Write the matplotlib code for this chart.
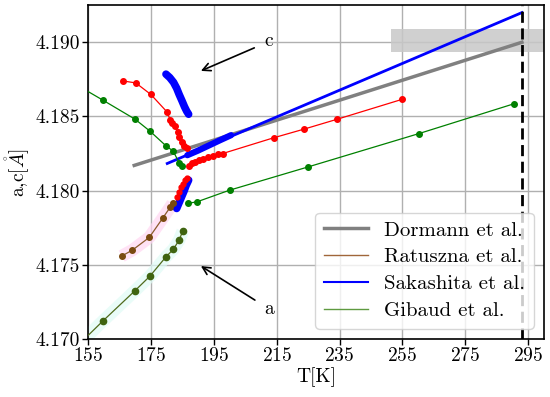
import matplotlib
matplotlib.use("Agg")
import matplotlib.pyplot as plt
from matplotlib.lines import Line2D
import numpy as np

plt.rcParams['font.family'] = 'serif'
plt.rcParams['font.serif'] = ['cmr10']
plt.rcParams['mathtext.fontset'] = 'cm'
plt.rcParams['axes.formatter.use_mathtext'] = True
plt.rcParams['axes.unicode_minus'] = False

# Dormann et al. (linear fit)
dor_T = [169.7, 293.0]
dor_v = [4.1817, 4.1900]

# Sakashita et al.
sak_line_T = [180.2, 293.0]
sak_line_v = [4.18183, 4.1920]
sak_seg_T = [186.6, 190.0, 193.5, 197.0, 200.5]
sak_seg_v = [4.18239, 4.18270, 4.18305, 4.18340, 4.18374]
sak_c_T = [179.8, 181.0, 182.2, 183.2, 184.0, 184.9, 185.7, 186.4, 187.0]
sak_c_v = [4.18785, 4.18762, 4.18730, 4.18690, 4.18648, 4.18605, 4.18565, 4.18535, 4.18515]
sak_a_T = [183.2, 184.0, 184.8, 185.5, 186.2, 187.0]
sak_a_v = [4.17880, 4.17920, 4.17960, 4.17995, 4.18035, 4.18071]

# Ratuszna et al.
rat_c_T = [166.2, 170.2, 175.0, 180.1, 181.1, 181.7, 182.8, 183.6, 184.0, 184.9, 185.6, 186.4]
rat_c_v = [4.18739, 4.18726, 4.18648, 4.18531, 4.18479, 4.18457, 4.18434, 4.18396,
           4.18362, 4.18329, 4.18302, 4.18288]
rat_hi_T = [187.2, 188.1, 189.1, 190.4, 191.7, 193.1, 194.7, 196.2, 197.8, 214.0, 223.6, 234.2, 255.0]
rat_hi_v = [4.18167, 4.18183, 4.18194, 4.18205, 4.18214, 4.18228, 4.18234, 4.18246,
            4.18250, 4.18356, 4.18414, 4.18481, 4.18616]
rat_a_T = [165.7, 169.1, 174.5, 178.7, 181.1, 181.9]
rat_a_v = [4.17559, 4.17599, 4.17685, 4.17813, 4.17887, 4.17914]
rat_a2_T = [183.2, 183.8, 184.6, 185.1, 185.9, 186.4]
rat_a2_v = [4.17958, 4.17992, 4.18026, 4.18048, 4.18071, 4.18082]

# Gibaud et al.
gib_c_T = [150.0, 159.8, 170.0, 174.7, 179.8, 182.1, 184.0, 184.9]
gib_c_v = [4.18730, 4.18609, 4.18481, 4.18401, 4.18302, 4.18266, 4.18187, 4.18167]
gib_hi_T = [186.7, 189.7, 200.0, 225.0, 260.3, 290.4]
gib_hi_v = [4.17914, 4.17925, 4.18003, 4.18160, 4.18385, 4.18585]
gib_a_T = [150.0, 159.8, 169.9, 174.7, 179.8, 182.1, 184.0, 185.1]
gib_a_v = [4.16920, 4.17123, 4.17325, 4.17424, 4.17554, 4.17604, 4.17667, 4.17727]

T_room = 293.0
band_T = [251.5, 300.0]
band_v = [4.18933, 4.19088]

fig = plt.figure(figsize=(5.5, 3.97), dpi=100)
ax = fig.add_axes([0.160, 0.146, 0.829, 0.841])

ax.grid(True, color='#b0b0b0', lw=1.0, zorder=0)
ax.set_axisbelow(True)

ax.fill_between(band_T, band_v[0], band_v[1], color='#c8c8c8', alpha=0.85, lw=0, zorder=1)

# soft highlights behind a-branch points
ax.plot(rat_a_T, rat_a_v, color='#ffd6f2', lw=9, alpha=0.7, solid_capstyle='butt', zorder=1.5)
ax.plot(gib_a_T, gib_a_v, color='#e0fbf6', lw=9, alpha=0.7, solid_capstyle='butt', zorder=1.5)

ax.plot(dor_T, dor_v, color='gray', lw=2.5, zorder=3)
ax.plot(sak_line_T, sak_line_v, color='blue', lw=2.0, zorder=3)
ax.plot(sak_seg_T, sak_seg_v, color='blue', lw=4.5, solid_capstyle='round', zorder=3)
ax.plot(sak_c_T, sak_c_v, color='blue', lw=5.5, solid_capstyle='round', zorder=3)
ax.plot(sak_a_T, sak_a_v, color='blue', lw=5.5, solid_capstyle='round', zorder=3)

ax.plot(rat_c_T, rat_c_v, color='red', lw=0.9, marker='o', ms=4, zorder=4)
ax.plot(rat_hi_T, rat_hi_v, color='red', lw=0.9, marker='o', ms=4, zorder=4)
ax.plot(rat_a_T, rat_a_v, color='#8b5a2b', lw=0.9, marker='o', ms=4,
        mfc='#7a4a10', mec='#7a4a10', zorder=4)
ax.plot(rat_a2_T, rat_a2_v, color='red', lw=0.9, marker='o', ms=3.5, zorder=4)

ax.plot(gib_c_T, gib_c_v, color='green', lw=0.9, marker='o', ms=4, zorder=4)
ax.plot(gib_hi_T, gib_hi_v, color='green', lw=0.9, marker='o', ms=4, zorder=4)
ax.plot(gib_a_T, gib_a_v, color='#4f6a1c', lw=0.9, marker='o', ms=4.5,
        mfc='#3f6410', mec='#3f6410', zorder=4)

ax.axvline(T_room, color='black', lw=2, ls=(0, (4, 2)), zorder=5)

ax.annotate('c', xy=(190.9, 4.18807), xytext=(211.2, 4.19005), fontsize=14,
            ha='left', va='center',
            arrowprops=dict(arrowstyle='->', color='black', lw=1.2, shrinkA=6, shrinkB=0))
ax.annotate('a', xy=(190.9, 4.17492), xytext=(211.2, 4.17200), fontsize=14,
            ha='left', va='center',
            arrowprops=dict(arrowstyle='->', color='black', lw=1.2, shrinkA=6, shrinkB=0))

ax.set_xlim(155, 300)
ax.set_ylim(4.170, 4.1925)
ax.set_xticks(np.arange(155, 296, 20))
ax.set_yticks([4.170, 4.175, 4.180, 4.185, 4.190])
ax.set_yticklabels(['4.170', '4.175', '4.180', '4.185', '4.190'])
ax.tick_params(labelsize=14, length=4, width=1, pad=2)
for s in ax.spines.values():
    s.set_linewidth(1.2)

ax.set_xlabel('T[K]', fontsize=14, labelpad=1)
ax.set_ylabel(r'a,c[$\mathring{A}$]', fontsize=14, labelpad=2)

handles = [
    Line2D([], [], color='gray', lw=2.5),
    Line2D([], [], color='#a0663a', lw=1.0),
    Line2D([], [], color='blue', lw=1.5),
    Line2D([], [], color='#5e9a40', lw=1.0),
]
labels = ['Dormann et al.', 'Ratuszna et al.', 'Sakashita et al.', 'Gibaud et al.']
ax.legend(handles, labels, loc='lower right', fontsize=15, framealpha=0.8,
          handlelength=2.1, borderpad=0.4, labelspacing=0.4, handletextpad=0.8,
          borderaxespad=0.5)

fig.savefig('out.png', dpi=100)
